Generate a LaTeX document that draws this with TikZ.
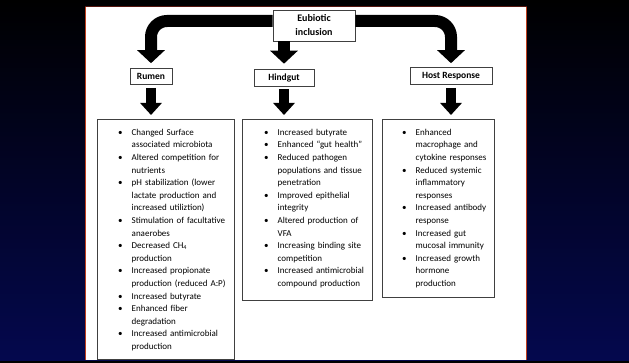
\documentclass[tikz,border=0pt]{standalone}
\usepackage{fontspec}
\setmainfont{Carlito}
\usetikzlibrary{arrows.meta,positioning}

\definecolor{bgnavy}{RGB}{4,8,78}
\definecolor{bgmid}{RGB}{2,4,38}
\definecolor{slideedge}{RGB}{190,62,30}
\definecolor{slidetop}{RGB}{85,22,15}

\tikzset{
    labelbox/.style={draw=black!75, fill=white, line width=0.6pt, inner sep=0pt,
        font=\fontsize{9.5}{11}\selectfont\bfseries},
    listbox/.style={draw=black!75, line width=0.6pt, inner sep=0pt, anchor=north west},
    listtext/.style={inner sep=0pt, text width=#1, align=left,
        font=\fontsize{9}{12.6}\selectfont},
    bigarrow/.style={line width=12pt, -{Triangle[width=27pt,length=13pt]}},
    smallarrow/.style={line width=10pt, -{Triangle[width=21pt,length=12pt]}},
}
\newcommand\bpoint[1]{\par{\def\\{\hfil\break}\noindent\hangindent=13.5pt\hangafter=1%
    \makebox[13.5pt][l]{\textbullet}#1\par}}

\begin{document}
\begin{tikzpicture}[x=1pt, y=1pt]
    \useasboundingbox (0,0) rectangle (629,-363);
    % slide background
    \shade[top color=black, middle color=bgmid, bottom color=bgnavy] (0,0) rectangle (629,-361);
    \fill[black] (0,-361) rectangle (629,-363);
    \fill[white] (86,-7) rectangle (526,-360);
    \draw[slideedge, line width=1pt] (85.5,-7) -- (85.5,-360);
    \draw[slideedge, line width=1pt] (526.5,-7) -- (526.5,-360);
    \draw[slidetop, line width=1.2pt] (85,-6.6) -- (527,-6.6);

    % top level
    \node[labelbox, minimum width=82pt, minimum height=31pt, align=center,
        font=\fontsize{10}{14}\selectfont\bfseries] (eub) at (314,-25.5) {Eubiotic\\inclusion};
    \node[labelbox, minimum width=42pt, minimum height=16pt] (rumen) at (151,-76.5) {Rumen};
    \node[labelbox, minimum width=60pt, minimum height=17pt] (hindgut) at (284,-77.5) {Hindgut};
    \node[labelbox, minimum width=82pt, minimum height=17pt] (host) at (451,-76) {Host Response};

    % effect boxes
    \node[listbox, minimum width=137pt, minimum height=240pt] (rumenbox) at (97,-119) {};
    \node[listbox, minimum width=130pt, minimum height=181pt] (hindbox) at (242,-119) {};
    \node[listbox, minimum width=112pt, minimum height=178pt] (hostbox) at (382,-119) {};

    \node[listtext=112pt, anchor=north west, below right=3.5pt and 21pt of rumenbox.north west] (rumenlist) {%
        \bpoint{Changed Surface\\associated microbiota}
        \bpoint{Altered competition for\\nutrients}
        \bpoint{pH stabilization (lower\\lactate production and\\increased utiliztion)}
        \bpoint{Stimulation of facultative\\anaerobes}
        \bpoint{Decreased CH\textsubscript{4}\\production}
        \bpoint{Increased propionate\\production (reduced A:P)}
        \bpoint{Increased butyrate}
        \bpoint{Enhanced fiber\\degradation}
        \bpoint{Increased antimicrobial\\production}};
    \node[listtext=105pt, anchor=north west, below right=3.5pt and 22pt of hindbox.north west] (hindlist) {%
        \bpoint{Increased butyrate}
        \bpoint{Enhanced “gut health”}
        \bpoint{Reduced pathogen\\populations and tissue\\penetration}
        \bpoint{Improved epithelial\\integrity}
        \bpoint{Altered production of\\VFA}
        \bpoint{Increasing binding site\\competition}
        \bpoint{Increased antimicrobial\\compound production}};
    \node[listtext=90pt, anchor=north west, below right=3.5pt and 20pt of hostbox.north west] (hostlist) {%
        \bpoint{Enhanced\\macrophage and\\cytokine responses}
        \bpoint{Reduced systemic\\inflammatory\\responses}
        \bpoint{Increased antibody\\response}
        \bpoint{Increased gut\\mucosal immunity}
        \bpoint{Increased growth\\hormone\\production}};

    % block arrows
    \draw[bigarrow, rounded corners=16pt, shorten >=5pt] ([yshift=4.5pt]eub.west) -| (rumen.north);
    \draw[bigarrow, rounded corners=16pt, shorten >=4pt] ([yshift=4.5pt]eub.east) -| (host.north);
    \draw[bigarrow, shorten >=5pt] (eub.south -| hindgut.north) -- (hindgut.north);
    \draw[smallarrow, shorten <=3pt, shorten >=4pt] (rumen.south) -- (rumen.south |- rumenbox.north);
    \draw[smallarrow, shorten <=3pt, shorten >=4pt] (hindgut.south) -- (hindgut.south |- hindbox.north);
    \draw[smallarrow, shorten <=3pt, shorten >=4pt] (host.south) -- (host.south |- hostbox.north);
\end{tikzpicture}
\end{document}
